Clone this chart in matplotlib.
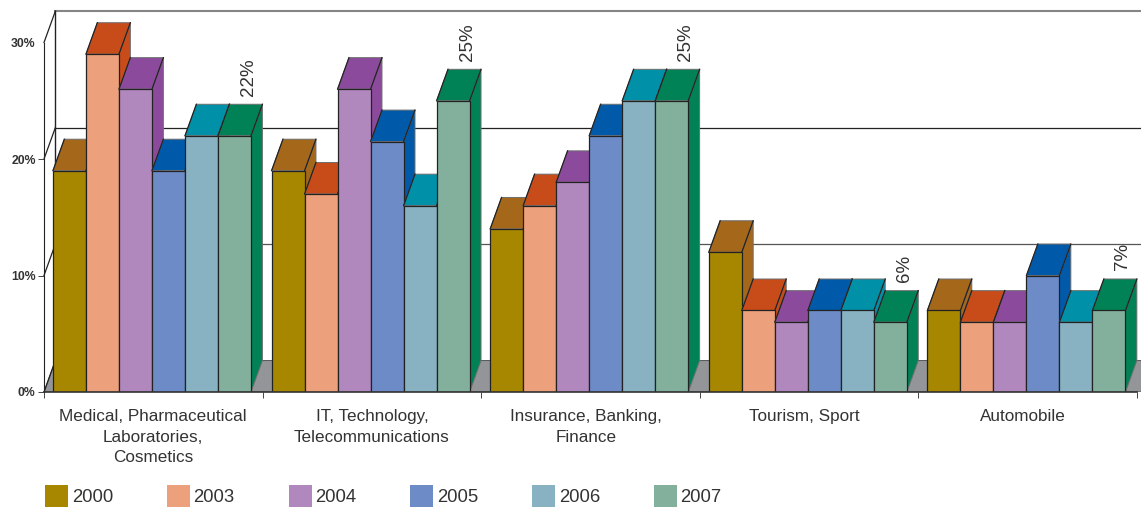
import numpy as np
import matplotlib
matplotlib.use('Agg')
import matplotlib.pyplot as plt
from matplotlib.patches import Patch, Polygon

plt.rcParams['font.family'] = ['Liberation Sans', 'DejaVu Sans']

# Data
sectors = ['Medical, Pharmaceutical\nLaboratories,\nCosmetics',
           'IT, Technology,\nTelecommunications',
           'Insurance, Banking,\nFinance',
           'Tourism, Sport',
           'Automobile']
years = ['2000', '2003', '2004', '2005', '2006', '2007']
v2000 = [19, 19, 14, 12, 7]
v2003 = [29, 17, 16, 7, 6]
v2004 = [26, 26, 18, 6, 6]
v2005 = [19, 21.5, 22, 7, 10]
v2006 = [22, 16, 25, 7, 6]
v2007 = [22, 25, 25, 6, 7]
series = [v2000, v2003, v2004, v2005, v2006, v2007]
last_labels = ['22%', '25%', '25%', '6%', '7%']
y_ticks = [0, 10, 20, 30]
y_tick_labels = ['0%', '10%', '20%', '30%']

# Colours: front faces, then top and side faces
front_colors = ['#a88700', '#eca07c', '#b088be', '#6d8cc7', '#88b2c2', '#82b09c']
depth_colors = ['#a5671a', '#c84c1a', '#8c4a9c', '#0059a9', '#0090a8', '#008256']
edge = '#222222'
soft_edge = '#6e6e6e'
text_color = '#333333'

# 3D look, in data units
dx = 0.052
dy = 2.7
bar_w = 0.151
start = 0.041
xmax = 5.018
ymax = 33.65

W, H = 1141, 507
fig = plt.figure(figsize=(W / 100, H / 100), dpi=100)
ax = fig.add_axes([44 / W, (H - 392) / H, (W - 44) / W, 392 / H])
ax.set_xlim(0, xmax)
ax.set_ylim(0, ymax)

# Floor and back wall
ax.add_patch(Polygon([(0, 0), (dx, dy), (xmax + dx, dy), (xmax, 0)],
                     facecolor='#939598', edgecolor='#555555', lw=0.7, zorder=1))
for v in y_ticks:
    if v > 0:
        line_col = '#858585' if v == 30 else ('#555555' if v == 10 else '#222222')
        ax.plot([dx, xmax], [v + dy, v + dy], color=line_col,
                lw=1.5 if v == 30 else 0.9, zorder=1)
    ax.plot([0, dx], [v, v + dy], color='#222222', lw=0.9, zorder=1, clip_on=False)
ax.plot([dx, dx], [dy, 30 + dy], color='#222222', lw=1.0, zorder=1)

# Bars, painted left to right so each one overlaps the side of the previous
z = 2
for g in range(len(sectors)):
    for s, values in enumerate(series):
        v = values[g]
        x0 = g + start + s * bar_w
        x1 = x0 + bar_w
        top = [(x0, v), (x0 + dx, v + dy), (x1 + dx, v + dy), (x1, v)]
        side = [(x1, 0), (x1 + dx, dy), (x1 + dx, v + dy), (x1, v)]
        ax.add_patch(Polygon(side, facecolor=depth_colors[s], edgecolor=soft_edge, lw=0.7, zorder=z))
        ax.add_patch(Polygon(top, facecolor=depth_colors[s], edgecolor=soft_edge, lw=0.7, zorder=z))
        # dark ridge between top and side, and along the left of the top
        ax.plot([x1, x1 + dx], [v, v + dy], color=edge, lw=0.9, zorder=z)
        ax.plot([x0, x0 + dx], [v, v + dy], color=edge, lw=0.9, zorder=z)
        ax.bar(x0, v, bar_w, align='edge', color=front_colors[s], edgecolor=edge, lw=0.9, zorder=z)
        z += 1
    # value of the last series, written sideways over its bar
    ax.text(g + start + 6 * bar_w - 0.012, series[-1][g] + dy + 0.75, last_labels[g],
            rotation=90, ha='center', va='bottom', fontsize=13.5, color=text_color, zorder=z)

# Axes
for name in ['top', 'right']:
    ax.spines[name].set_visible(False)
ax.spines['left'].set_bounds(0, 30)
ax.spines['left'].set_color('#222222')
ax.spines['bottom'].set_color('#333333')
ax.spines['bottom'].set_bounds(0, 5)
ax.spines['bottom'].set_linewidth(1.2)
ax.spines['bottom'].set_zorder(50)

ax.set_yticks(y_ticks)
ax.set_yticklabels(y_tick_labels, fontsize=8.8, fontweight='bold', color=text_color)
ax.tick_params(axis='y', length=4, width=0.7, pad=2, color='#444444')
ax.yaxis.get_major_ticks()[3].tick1line.set_visible(False)

ax.set_xticks(np.arange(6))
ax.set_xticklabels([])
ax.set_xticks([0.5, 1.5, 2.48, 3.48, 4.48], minor=True)
ax.set_xticklabels(sectors, minor=True, fontsize=12.3, color=text_color, linespacing=1.46)
ax.tick_params(axis='x', which='major', length=4.5, width=0.7, color='#444444')
ax.tick_params(axis='x', which='minor', length=0, pad=12.5)

# Legend
handles = [Patch(facecolor=c, edgecolor='none', label=y) for c, y in zip(front_colors, years)]
fig.legend(handles=handles, loc='lower left', bbox_to_anchor=(45 / W, 0), ncol=6,
           frameon=False, fontsize=13.3, handlelength=1.25, handleheight=1.45,
           handletextpad=0.2, columnspacing=2.91, borderpad=0, borderaxespad=0,
           labelcolor=text_color)

fig.savefig('out.png', dpi=100)
